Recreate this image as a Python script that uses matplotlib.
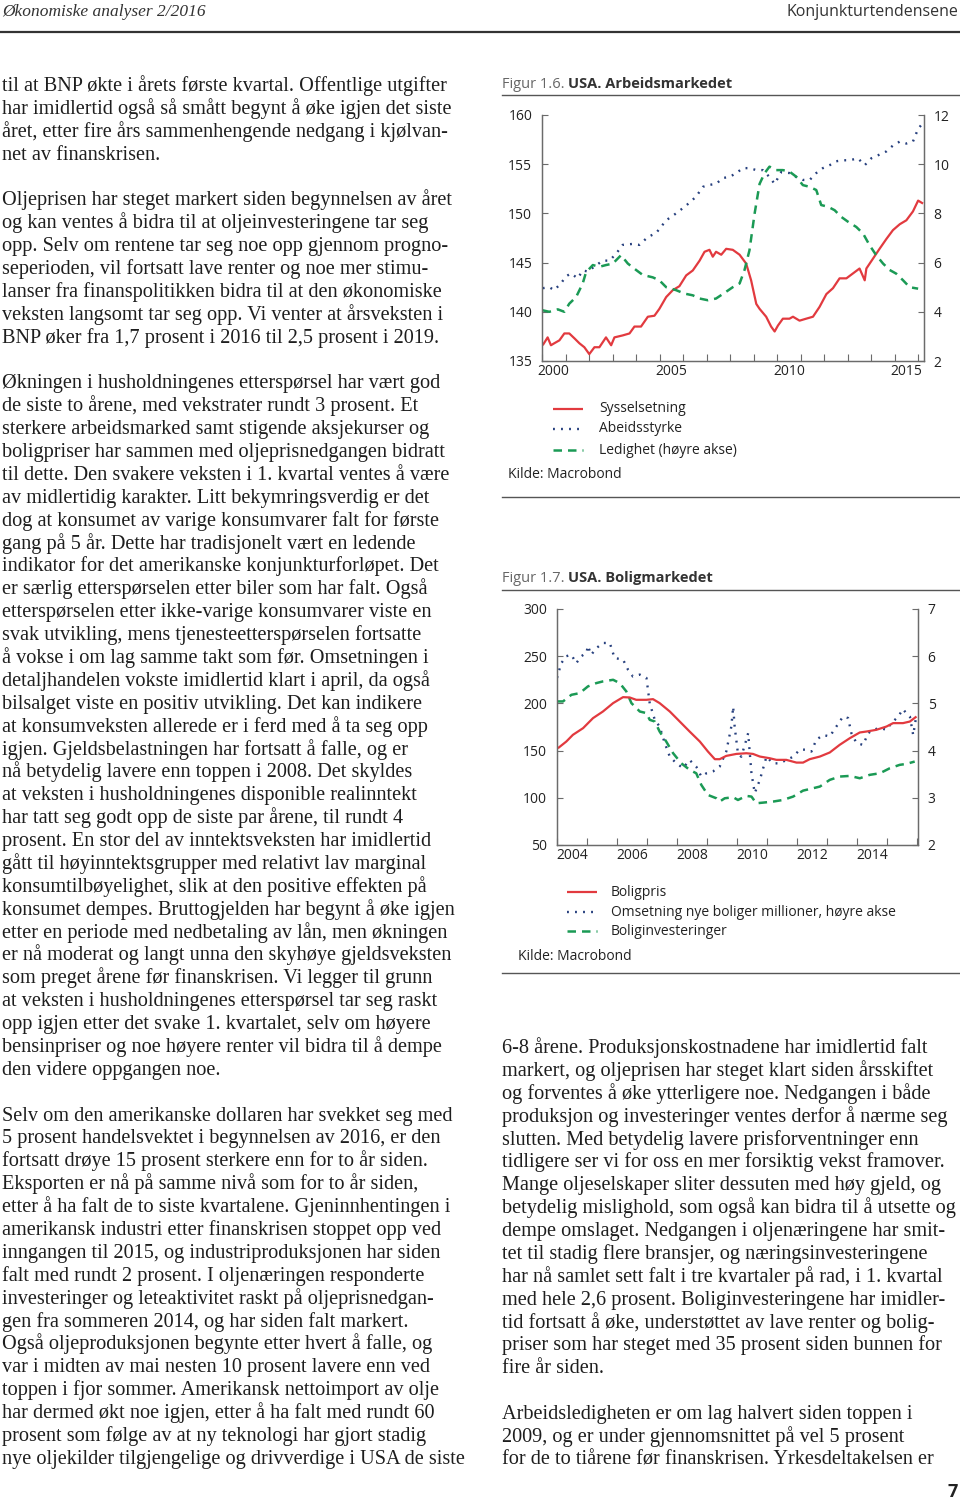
import numpy as np
import matplotlib
matplotlib.use("Agg")
import matplotlib.pyplot as plt
from matplotlib.lines import Line2D

W, H = 960, 1499

# ---- data: figur 1.6 USA arbeidsmarkedet ----
syss_x = [2000.03, 2000.24, 2000.38, 2000.52, 2000.74, 2000.95, 2001.16, 2001.38, 2001.59, 2001.80,
          2002.01, 2002.23, 2002.44, 2002.72, 2002.94, 2003.08, 2003.43, 2003.72, 2003.93, 2004.21,
          2004.50, 2004.78, 2004.99, 2005.28, 2005.56, 2005.84, 2006.13, 2006.41, 2006.70, 2006.91,
          2007.12, 2007.26, 2007.40, 2007.62, 2007.83, 2008.11, 2008.40, 2008.68, 2008.89, 2009.11,
          2009.25, 2009.53, 2009.74, 2009.89, 2010.03, 2010.24, 2010.52, 2010.67, 2010.95, 2011.23,
          2011.52, 2011.80, 2012.09, 2012.37, 2012.65, 2012.94, 2013.22, 2013.50, 2013.72, 2013.79,
          2014.07, 2014.35, 2014.64, 2014.92, 2015.21, 2015.49, 2015.77, 2015.99, 2016.20]
syss = [136.6, 137.4, 136.6, 136.8, 137.1, 137.8, 137.8, 137.3, 136.8, 136.4,
        135.7, 136.4, 136.4, 137.4, 136.6, 137.4, 137.6, 137.8, 138.5, 138.5,
        139.5, 139.6, 140.3, 141.5, 142.2, 142.6, 143.7, 144.2, 145.2, 146.1,
        146.3, 145.6, 146.1, 145.8, 146.4, 146.3, 145.8, 144.9, 143.2, 140.8,
        140.3, 139.5, 138.5, 138.0, 138.6, 139.3, 139.3, 139.5, 139.1, 139.3,
        139.5, 140.5, 141.8, 142.4, 143.4, 143.4, 143.9, 144.4, 143.2, 144.4,
        145.4, 146.4, 147.4, 148.3, 148.9, 149.3, 150.2, 151.3, 151.0]

styrke_x = [2000.03, 2000.31, 2000.52, 2000.81, 2001.02, 2001.23, 2001.52, 2001.73, 2001.94, 2002.23,
            2002.58, 2002.87, 2003.15, 2003.43, 2003.86, 2004.14, 2004.50, 2004.85, 2005.28, 2005.70,
            2006.13, 2006.55, 2006.84, 2007.12, 2007.40, 2007.69, 2007.97, 2008.26, 2008.54, 2008.82,
            2009.11, 2009.39, 2009.67, 2009.89, 2010.17, 2010.52, 2010.81, 2011.09, 2011.38, 2011.66,
            2011.94, 2012.23, 2012.51, 2012.79, 2013.08, 2013.43, 2013.72, 2014.00, 2014.28, 2014.64,
            2014.92, 2015.21, 2015.49, 2015.77, 2015.99, 2016.20]
styrke = [142.4, 142.5, 142.2, 142.9, 143.6, 143.9, 143.4, 144.2, 144.1, 144.6,
          145.2, 145.2, 145.9, 146.8, 146.9, 146.8, 147.6, 148.0, 149.3, 150.0,
          150.8, 151.7, 152.7, 152.9, 153.0, 153.6, 153.7, 154.1, 154.6, 154.6,
          154.4, 154.4, 153.7, 153.0, 154.2, 154.1, 153.7, 153.4, 153.4, 154.1,
          154.6, 154.9, 155.3, 155.4, 155.4, 155.6, 154.9, 155.6, 155.9, 156.3,
          156.9, 157.3, 157.1, 157.3, 158.6, 159.2]

ledig_x = [2000.03, 2000.31, 2000.67, 2000.95, 2001.16, 2001.45, 2001.73, 2001.87, 2002.16, 2002.44,
           2002.72, 2003.01, 2003.36, 2003.65, 2004.00, 2004.28, 2004.71, 2004.99, 2005.28, 2005.70,
           2006.06, 2006.41, 2006.70, 2007.05, 2007.40, 2007.76, 2008.11, 2008.40, 2008.61, 2008.82,
           2009.04, 2009.25, 2009.46, 2009.67, 2009.96, 2010.24, 2010.52, 2010.81, 2011.09, 2011.38,
           2011.66, 2011.87, 2012.16, 2012.44, 2012.72, 2013.01, 2013.36, 2013.65, 2013.93, 2014.21,
           2014.50, 2014.78, 2015.06, 2015.35, 2015.63, 2015.99]
ledig = [4.06, 4.0, 4.1, 4.0, 4.33, 4.6, 5.15, 5.6, 5.9, 5.83,
         5.9, 5.96, 6.3, 5.96, 5.7, 5.5, 5.4, 5.28, 5.0, 4.88,
         4.74, 4.67, 4.54, 4.47, 4.54, 4.77, 5.0, 5.15, 5.7, 6.5,
         8.0, 9.2, 9.63, 9.9, 9.76, 9.76, 9.7, 9.49, 9.15, 9.08,
         8.95, 8.34, 8.27, 8.13, 7.86, 7.66, 7.45, 7.18, 6.7, 6.3,
         5.96, 5.7, 5.55, 5.28, 5.0, 4.94]

# ---- data: figur 1.7 USA boligmarkedet ----
pris_x = [2004.03, 2004.31, 2004.53, 2004.87, 2005.20, 2005.53, 2005.87, 2006.20, 2006.42, 2006.64,
          2006.98, 2007.20, 2007.42, 2007.76, 2008.09, 2008.42, 2008.76, 2009.03, 2009.26, 2009.42,
          2009.64, 2009.98, 2010.31, 2010.53, 2010.76, 2011.09, 2011.31, 2011.64, 2011.98, 2012.20,
          2012.42, 2012.76, 2013.09, 2013.42, 2013.76, 2014.09, 2014.31, 2014.64, 2014.98, 2015.20,
          2015.53, 2015.76, 2015.98]
pris = [152.5, 159.6, 166.7, 173.8, 184.4, 191.4, 200.3, 206.6, 206.3, 203.8,
        203.8, 204.5, 200.3, 191.4, 180.8, 170.2, 159.6, 149.0, 140.9, 140.9,
        144.4, 146.5, 147.2, 146.5, 143.7, 141.9, 140.2, 140.2, 137.3, 137.3,
        140.9, 143.7, 148.0, 156.1, 163.2, 169.2, 170.2, 172.0, 175.5, 179.1,
        179.1, 180.8, 186.1]

oms_x = [2004.00, 2004.14, 2004.31, 2004.48, 2004.64, 2004.81, 2004.98, 2005.03, 2005.14, 2005.31,
         2005.53, 2005.76, 2005.92, 2006.20, 2006.37, 2006.53, 2006.76, 2006.98, 2007.09, 2007.26,
         2007.42, 2007.59, 2007.76, 2007.98, 2008.20, 2008.42, 2008.64, 2008.81, 2008.98, 2009.20,
         2009.42, 2009.64, 2009.81, 2009.87, 2009.92, 2010.03, 2010.14, 2010.31, 2010.37, 2010.48,
         2010.59, 2010.76, 2010.98, 2011.20, 2011.42, 2011.64, 2011.87, 2012.09, 2012.31, 2012.48,
         2012.64, 2012.87, 2013.09, 2013.31, 2013.53, 2013.70, 2013.81, 2013.98, 2014.20, 2014.37,
         2014.53, 2014.76, 2014.98, 2015.14, 2015.37, 2015.53, 2015.64, 2015.76, 2015.87, 2015.98]
oms = [5.54, 5.85, 6.0, 6.03, 5.85, 6.0, 6.07, 6.22, 6.03, 6.17,
       6.28, 6.28, 5.96, 5.93, 5.71, 5.57, 5.61, 5.54, 5.0, 4.65,
       4.51, 4.16, 3.87, 3.73, 3.63, 3.8, 3.66, 3.45, 3.52, 3.56,
       3.66, 3.98, 4.51, 4.93, 4.51, 3.94, 3.87, 4.23, 4.37, 3.52,
       3.1, 3.38, 3.87, 3.73, 3.73, 3.8, 3.87, 4.02, 4.02, 3.98,
       4.23, 4.33, 4.3, 4.51, 4.72, 4.69, 4.37, 4.16, 4.12, 4.37,
       4.44, 4.48, 4.44, 4.58, 4.72, 4.88, 4.79, 4.72, 4.33, 4.76]

inv_x = [2004.00, 2004.20, 2004.48, 2004.76, 2005.03, 2005.31, 2005.53, 2005.87, 2006.09, 2006.31,
         2006.48, 2006.76, 2006.98, 2007.09, 2007.26, 2007.42, 2007.64, 2007.87, 2008.14, 2008.42,
         2008.64, 2008.81, 2009.03, 2009.31, 2009.42, 2009.59, 2009.87, 2010.03, 2010.31, 2010.48,
         2010.64, 2010.87, 2011.20, 2011.53, 2011.87, 2012.20, 2012.53, 2012.76, 2013.09, 2013.42,
         2013.76, 2014.09, 2014.42, 2014.76, 2015.09, 2015.42, 2015.64, 2015.92]
inv = [202.1, 202.1, 209.1, 210.9, 218.0, 221.5, 223.3, 225.0, 221.5, 212.7,
       200.3, 191.4, 189.7, 182.6, 180.8, 170.2, 159.6, 147.2, 136.6, 129.6,
       126.0, 113.6, 103.0, 99.5, 96.0, 99.5, 100.6, 97.7, 102.0, 101.3,
       94.2, 94.9, 96.0, 97.7, 101.3, 107.6, 110.1, 111.9, 119.0, 122.5,
       123.2, 120.7, 124.3, 126.0, 131.3, 134.9, 135.9, 138.4]

# ---- text ----
left_col = [
    "til at BNP økte i årets første kvartal. Offentlige utgifter",
    "har imidlertid også så smått begynt å øke igjen det siste",
    "året, etter fire års sammenhengende nedgang i kjølvan-",
    "net av finanskrisen.",
    "",
    "Oljeprisen har steget markert siden begynnelsen av året",
    "og kan ventes å bidra til at oljeinvesteringene tar seg",
    "opp. Selv om rentene tar seg noe opp gjennom progno-",
    "seperioden, vil fortsatt lave renter og noe mer stimu-",
    "lanser fra finanspolitikken bidra til at den økonomiske",
    "veksten langsomt tar seg opp. Vi venter at årsveksten i",
    "BNP øker fra 1,7 prosent i 2016 til 2,5 prosent i 2019.",
    "",
    "Økningen i husholdningenes etterspørsel har vært god",
    "de siste to årene, med vekstrater rundt 3 prosent. Et",
    "sterkere arbeidsmarked samt stigende aksjekurser og",
    "boligpriser har sammen med oljeprisnedgangen bidratt",
    "til dette. Den svakere veksten i 1. kvartal ventes å være",
    "av midlertidig karakter. Litt bekymringsverdig er det",
    "dog at konsumet av varige konsumvarer falt for første",
    "gang på 5 år. Dette har tradisjonelt vært en ledende",
    "indikator for det amerikanske konjunkturforløpet. Det",
    "er særlig etterspørselen etter biler som har falt. Også",
    "etterspørselen etter ikke-varige konsumvarer viste en",
    "svak utvikling, mens tjenesteetterspørselen fortsatte",
    "å vokse i om lag samme takt som før. Omsetningen i",
    "detaljhandelen vokste imidlertid klart i april, da også",
    "bilsalget viste en positiv utvikling. Det kan indikere",
    "at konsumveksten allerede er i ferd med å ta seg opp",
    "igjen. Gjeldsbelastningen har fortsatt å falle, og er",
    "nå betydelig lavere enn toppen i 2008. Det skyldes",
    "at veksten i husholdningenes disponible realinntekt",
    "har tatt seg godt opp de siste par årene, til rundt 4",
    "prosent. En stor del av inntektsveksten har imidlertid",
    "gått til høyinntektsgrupper med relativt lav marginal",
    "konsumtilbøyelighet, slik at den positive effekten på",
    "konsumet dempes. Bruttogjelden har begynt å øke igjen",
    "etter en periode med nedbetaling av lån, men økningen",
    "er nå moderat og langt unna den skyhøye gjeldsveksten",
    "som preget årene før finanskrisen. Vi legger til grunn",
    "at veksten i husholdningenes etterspørsel tar seg raskt",
    "opp igjen etter det svake 1. kvartalet, selv om høyere",
    "bensinpriser og noe høyere renter vil bidra til å dempe",
    "den videre oppgangen noe.",
    "",
    "Selv om den amerikanske dollaren har svekket seg med",
    "5 prosent handelsvektet i begynnelsen av 2016, er den",
    "fortsatt drøye 15 prosent sterkere enn for to år siden.",
    "Eksporten er nå på samme nivå som for to år siden,",
    "etter å ha falt de to siste kvartalene. Gjeninnhentingen i",
    "amerikansk industri etter finanskrisen stoppet opp ved",
    "inngangen til 2015, og industriproduksjonen har siden",
    "falt med rundt 2 prosent. I oljenæringen responderte",
    "investeringer og leteaktivitet raskt på oljeprisnedgan-",
    "gen fra sommeren 2014, og har siden falt markert.",
    "Også oljeproduksjonen begynte etter hvert å falle, og",
    "var i midten av mai nesten 10 prosent lavere enn ved",
    "toppen i fjor sommer. Amerikansk nettoimport av olje",
    "har dermed økt noe igjen, etter å ha falt med rundt 60",
    "prosent som følge av at ny teknologi har gjort stadig",
    "nye oljekilder tilgjengelige og drivverdige i USA de siste",
]
right_col = [
    "6-8 årene. Produksjonskostnadene har imidlertid falt",
    "markert, og oljeprisen har steget klart siden årsskiftet",
    "og forventes å øke ytterligere noe. Nedgangen i både",
    "produksjon og investeringer ventes derfor å nærme seg",
    "slutten. Med betydelig lavere prisforventninger enn",
    "tidligere ser vi for oss en mer forsiktig vekst framover.",
    "Mange oljeselskaper sliter dessuten med høy gjeld, og",
    "betydelig mislighold, som også kan bidra til å utsette og",
    "dempe omslaget. Nedgangen i oljenæringene har smit-",
    "tet til stadig flere bransjer, og næringsinvesteringene",
    "har nå samlet sett falt i tre kvartaler på rad, i 1. kvartal",
    "med hele 2,6 prosent. Boliginvesteringene har imidler-",
    "tid fortsatt å øke, understøttet av lave renter og bolig-",
    "priser som har steget med 35 prosent siden bunnen for",
    "fire år siden.",
    "",
    "Arbeidsledigheten er om lag halvert siden toppen i",
    "2009, og er under gjennomsnittet på vel 5 prosent",
    "for de to tiårene før finanskrisen. Yrkesdeltakelsen er",
]

RED = "#e23a3f"
BLUE = "#27407e"
GREEN = "#1b9a55"
AXC = "#6b6b6b"
SANS = "Open Sans"
SERIF = "Liberation Serif"

fig = plt.figure(figsize=(W / 100, H / 100), dpi=100)
renderer = fig.canvas.get_renderer()


def fx(x):
    return x / W


def fy(y):
    return 1 - y / H


def txt(x, y, s, **kw):
    return fig.text(fx(x), fy(y), s, **kw)


def hline(x0, x1, y, lw=1.0, color="#444444"):
    fig.add_artist(Line2D([fx(x0), fx(x1)], [fy(y), fy(y)], transform=fig.transFigure,
                          lw=lw, color=color))


# body font size so the first line is ~443 px wide
t = txt(2, 91, left_col[0], family=SERIF, fontsize=12)
wpx = t.get_window_extent(renderer).width
t.remove()
body_fs = 12 * 443 / wpx

pitch = 22.88
for i, line in enumerate(left_col):
    if line:
        txt(2, 91 + i * pitch, line, family=SERIF, fontsize=body_fs, va="baseline", color="#1e1e1e")
for i, line in enumerate(right_col):
    if line:
        txt(502, 1053 + i * pitch, line, family=SERIF, fontsize=body_fs, va="baseline", color="#1e1e1e")

# page header
txt(2, 16, "Økonomiske analyser 2/2016", family=SERIF, style="italic", fontsize=12.5,
    va="baseline", color="#333333")
txt(958, 16, "Konjunkturtendensene", family=SANS, fontsize=11.5, va="baseline", ha="right",
    color="#333333")
hline(0, 960, 32, lw=1.6, color="#333333")
txt(958, 1497, "7", family=SANS, fontsize=13, weight="bold", va="baseline", ha="right", color="#222222")


def fig_title(y, num, name):
    a = txt(502, y, "Figur " + num + " ", family=SANS, fontsize=10.5, va="baseline", color="#666666")
    w = a.get_window_extent(renderer).width
    txt(502 + w, y, name, family=SANS, fontsize=10.5, va="baseline", weight="bold", color="#333333")


def style_axes(ax, ax2, x0, x1):
    for a in (ax, ax2):
        a.spines["top"].set_visible(False)
        for s in ("left", "right", "bottom"):
            a.spines[s].set_color(AXC)
            a.spines[s].set_linewidth(0.9)
        a.set_facecolor("none")
    ax.set_xlim(x0, x1)
    years = np.arange(x0, int(x1) + 1)
    ax.set_xticks(years)
    ax.tick_params(axis="x", which="major", direction="in", length=5, color=AXC, labelbottom=False)
    ax.tick_params(axis="x", which="minor", length=0, labelsize=10, pad=2)
    ax.tick_params(axis="y", direction="in", length=4, color=AXC, labelsize=10, pad=7)
    ax2.tick_params(axis="y", direction="in", length=4, color=AXC, labelsize=10, pad=7)
    for lab in ax.get_xticklabels(which="minor") + ax.get_yticklabels() + ax2.get_yticklabels():
        lab.set_fontfamily(SANS)
        lab.set_color("#222222")


def legend_rows(x0, x1, xt, ys, labels, styles):
    for y, lab, st in zip(ys, labels, styles):
        fig.add_artist(Line2D([fx(x0), fx(x1)], [fy(y), fy(y)], transform=fig.transFigure, **st))
        txt(xt, y, lab, family=SANS, fontsize=10, va="center", color="#222222")


red_st = dict(color=RED, lw=1.6, solid_capstyle="butt")
blue_st = dict(color=BLUE, lw=1.7, linestyle=(0, (0.8, 2.6)))
green_st = dict(color=GREEN, lw=1.8, linestyle=(0, (3.4, 2.4)))

# ---- figur 1.6 ----
fig_title(88, "1.6.", "USA. Arbeidsmarkedet")
hline(502, 959, 95, lw=1.0, color="#555555")
ax1 = fig.add_axes([fx(542), fy(361), fx(924) - fx(542), (361 - 115) / H])
ax1b = ax1.twinx()
ax1.plot(styrke_x, styrke, **blue_st)
ax1.plot(syss_x, syss, **red_st)
ax1b.plot(ledig_x, ledig, **green_st)
ax1.set_ylim(135, 160)
ax1.set_yticks([135, 140, 145, 150, 155, 160])
ax1b.set_ylim(2, 12)
ax1b.set_yticks([2, 4, 6, 8, 10, 12])
ax1.set_xticks([2000.5, 2005.5, 2010.5, 2015.5], minor=True)
ax1.set_xticklabels(["2000", "2005", "2010", "2015"], minor=True)
style_axes(ax1, ax1b, 2000, 2016.24)

legend_rows(553, 583, 599, [409, 429, 450],
            ["Sysselsetning", "Abeidsstyrke", "Ledighet (høyre akse)"],
            [red_st, blue_st, green_st])
txt(508, 475, "Kilde: Macrobond", family=SANS, fontsize=10, va="center", color="#222222")
hline(502, 959, 497, lw=1.0, color="#555555")

# ---- figur 1.7 ----
fig_title(582, "1.7.", "USA. Boligmarkedet")
hline(502, 959, 590, lw=1.0, color="#555555")
ax2 = fig.add_axes([fx(557), fy(845), fx(918) - fx(557), (845 - 609) / H])
ax2b = ax2.twinx()
ax2b.plot(oms_x, oms, **blue_st)
ax2.plot(inv_x, inv, **green_st)
ax2.plot(pris_x, pris, **red_st)
ax2.set_zorder(ax2b.get_zorder() + 1)
ax2.set_ylim(50, 300)
ax2.set_yticks([50, 100, 150, 200, 250, 300])
ax2b.set_ylim(2, 7)
ax2b.set_yticks([2, 3, 4, 5, 6, 7])
ax2.set_xticks([2004.5, 2006.5, 2008.5, 2010.5, 2012.5, 2014.5], minor=True)
ax2.set_xticklabels(["2004", "2006", "2008", "2010", "2012", "2014"], minor=True)
style_axes(ax2, ax2b, 2004, 2016.03)

legend_rows(567, 597, 611, [892, 912, 931],
            ["Boligpris", "Omsetning nye boliger millioner, høyre akse", "Boliginvesteringer"],
            [red_st, blue_st, green_st])
txt(518, 956, "Kilde: Macrobond", family=SANS, fontsize=10, va="center", color="#222222")
hline(502, 959, 973, lw=1.0, color="#555555")

fig.savefig("out.png", dpi=100)
